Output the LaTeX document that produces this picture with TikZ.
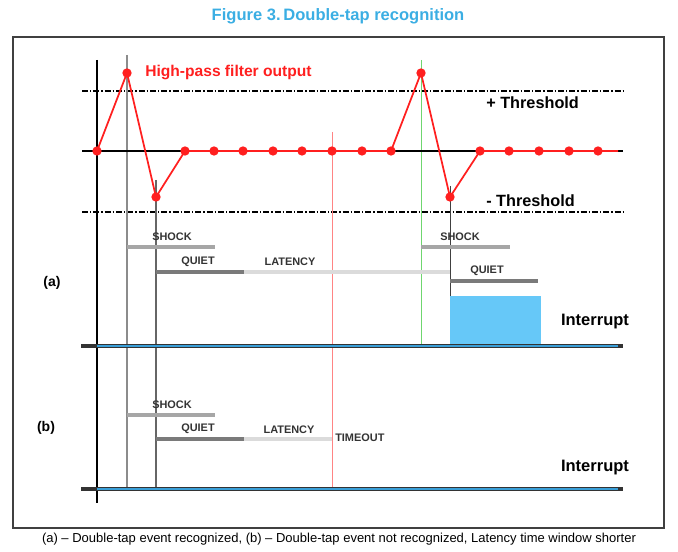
\documentclass[tikz,border=0pt]{standalone}
\usepackage{fontspec}
\setmainfont{Liberation Sans}
\definecolor{titleblue}{HTML}{3BAEE3}
\definecolor{sigred}{HTML}{FF1F1F}
\definecolor{intblue}{HTML}{66C8F8}
\definecolor{lineblue}{HTML}{3A9FD8}
\definecolor{markgreen}{HTML}{6FD66F}
\begin{document}
\begin{tikzpicture}[
  x=0.75pt, y=-0.75pt,
  title/.style={font=\fontsize{12.4}{14}\selectfont\bfseries, text=titleblue, inner sep=0pt},
  label/.style={font=\fontsize{8.2}{10}\selectfont\bfseries, text=black!80, inner sep=0pt},
  thr/.style={font=\fontsize{12.2}{14}\selectfont\bfseries, inner sep=0pt, anchor=west},
  big/.style={font=\fontsize{12.4}{14}\selectfont\bfseries, inner sep=0pt},
  part/.style={font=\fontsize{10.5}{12}\selectfont\bfseries, inner sep=0pt},
  axis/.style={line width=1.9pt, black},
  thrline/.style={line width=1.1pt, dash pattern=on 4.5pt off 1.5pt on 1pt off 1.5pt},
  dot/.style={circle, fill=sigred, inner sep=0pt, minimum size=7pt},
  shockbar/.style={line width=2.3pt, black!35},
  quietbar/.style={line width=2.3pt, black!52},
  latencybar/.style={line width=2.3pt, black!14},
  blackline/.style={line width=2.3pt, black!80},
  baseline/.style={line width=2pt, lineblue}
]
\useasboundingbox (0,0) rectangle (678,552);

\node[title] (figtitle) at (338,16) {Figure 3.\,Double-tap recognition};
\draw[black!75, line width=1pt] (13,37) rectangle (664,528);

\draw[thrline] (82,91) -- (623,91);
\draw[thrline] (82,212) -- (623,212);
\node[thr] (posthr) at (486,103) {+ Threshold};
\node[thr] (negthr) at (486,201) {- Threshold};

\coordinate (shocka) at (127,55);
\coordinate (quieta) at (156,180);
\coordinate (timeout) at (332,132);
\coordinate (shockb) at (421,60);
\coordinate (quietb) at (450,186);

\draw[black!45, line width=0.8pt] (shocka) -- (127,489);
\draw[black!60, line width=0.8pt] (quieta) -- (156,489);
\draw[sigred!55, line width=0.6pt] (timeout) -- (332,489);
\draw[markgreen, line width=0.7pt] (shockb) -- (421,346);
\draw[black!75, line width=0.6pt] (quietb) -- (450,346);

\draw[axis] (82,151) -- (623,151);
\draw[axis] (97,60) -- (97,503);

\draw[sigred, line width=1.3pt] (97,151) -- (127,73) -- (156,197) -- (185,151)
  -- (391,151) -- (421,73) -- (450,197) -- (480,151) -- (618,151);
\foreach \px/\py in {97/151, 127/73, 156/197, 185/151, 214/151, 243/151, 273/151,
  302/151, 332/151, 362/151, 391/151, 421/73, 450/197, 480/151, 509/151, 539/151,
  569/151, 598/151}
  \node[dot] at (\px,\py) {};
\node[font=\fontsize{11.7}{14}\selectfont\bfseries, text=sigred, inner sep=0pt, anchor=west]
  (hpfout) at (145,73) {High-pass filter output};

\node[part] (parta) at (52,283) {(a)};
\node[label] (shockalabel) at (172,237) {SHOCK};
\node[label] (quietalabel) at (198,262) {QUIET};
\node[label] (latencyalabel) at (290,262) {LATENCY};
\node[label] (shockblabel) at (460,237) {SHOCK};
\node[label] (quietblabel) at (487,271) {QUIET};
\draw[shockbar] (127,247) -- (215,247);
\draw[quietbar] (156,272) -- (244,272);
\draw[latencybar] (244,272) -- (450,272);
\draw[shockbar] (421,247) -- (510,247);
\draw[quietbar] (450,281) -- (538,281);
\node[big] (interrupta) at (595,322) {Interrupt};
\fill[intblue] (450,296) rectangle (541,346);
\draw[blackline] (81,346) -- (623,346);
\draw[baseline] (97,346) -- (618,346);

\node[part] (partb) at (46,428) {(b)};
\node[label] (shockclabel) at (172,405) {SHOCK};
\node[label] (quietclabel) at (198,429) {QUIET};
\node[label] (latencyclabel) at (289,430) {LATENCY};
\node[label, anchor=west] (timeoutlabel) at (335,438) {TIMEOUT};
\draw[shockbar] (127,415) -- (215,415);
\draw[quietbar] (156,439) -- (244,439);
\draw[latencybar] (244,439) -- (332,439);
\node[big] (interruptb) at (595,468) {Interrupt};
\draw[blackline] (81,489) -- (623,489);
\draw[baseline] (97,489) -- (618,489);

\node[font=\fontsize{9.75}{12}\selectfont, inner sep=0pt] (caption) at (339,539)
  {(a) -- Double-tap event recognized, (b) -- Double-tap event not recognized, Latency time window shorter};
\end{tikzpicture}
\end{document}
